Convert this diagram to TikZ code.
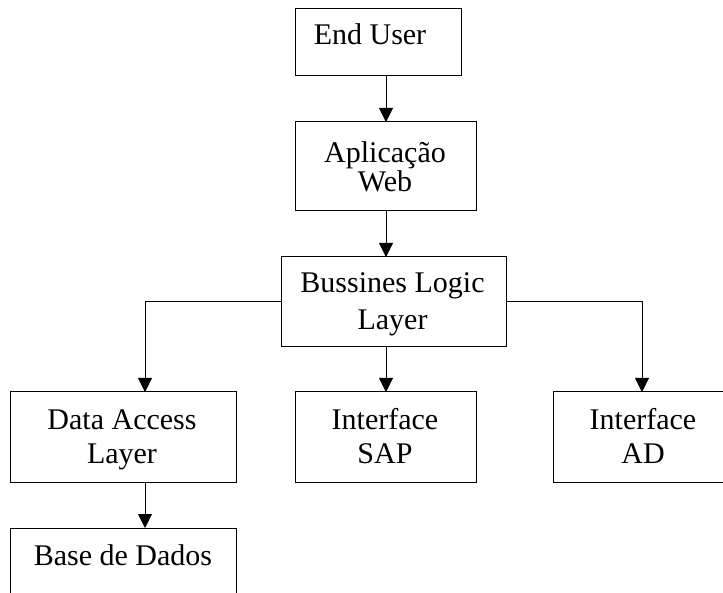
\documentclass[tikz,border=0pt]{standalone}
\usepackage{fontspec}
\setmainfont{Liberation Serif}
\usetikzlibrary{arrows.meta}
\begin{document}
\begin{tikzpicture}[x=1pt,y=-1pt,
  box/.style={draw, line width=1pt, inner sep=0pt, outer sep=0pt},
  lbl/.style={anchor=base, inner sep=0pt, font=\fontsize{30}{34}\selectfont},
  link/.style={draw, line width=1pt, -{Triangle[width=14pt,length=14pt]}}]
% canvas
\clip (0,0) rectangle (723,593);
\fill[white] (0,0) rectangle (723,593);

% boxes
\node[box, minimum width=166pt, minimum height=67pt] (user) at (378,42.5) {};
\node[box, minimum width=181pt, minimum height=89pt] (app)  at (385.5,166.5) {};
\node[box, minimum width=225pt, minimum height=90pt] (bll)  at (393.5,302) {};
\node[box, minimum width=226pt, minimum height=90pt] (dal)  at (123,437) {};
\node[box, minimum width=181pt, minimum height=90pt] (sap)  at (385.5,437) {};
\node[box, minimum width=247pt, minimum height=90pt] (ad)   at (676.5,437) {};
\node[box, minimum width=226pt, minimum height=92pt] (db)   at (123,574) {};

% labels
\node[lbl] (tuser) at (370,45) {End User};
\node[lbl] (tapp1) at (385,163) {Aplicação};
\node[lbl] (tapp2) at (385,192) {Web};
\node[lbl] (tbll1) at (392.5,293) {Bussines Logic};
\node[lbl] (tbll2) at (392.5,330) {Layer};
\node[lbl] (tdal1) at (122,429) {Data Access};
\node[lbl] (tdal2) at (122,463) {Layer};
\node[lbl] (tsap1) at (385,429) {Interface};
\node[lbl] (tsap2) at (385,463) {SAP};
\node[lbl] (tad1)  at (643,430) {Interface};
\node[lbl] (tad2)  at (643,463) {AD};
\node[lbl] (tdb)   at (123,565) {Base de Dados};

% connector columns
\coordinate (cx) at (386,0);
\coordinate (lx) at (145,0);
\coordinate (rx) at (642,0);

% connectors
\draw[link] (user.south -| cx) -- (app.north -| cx);
\draw[link] (app.south -| cx) -- (bll.north -| cx);
\draw[link] (bll.south -| cx) -- (sap.north -| cx);
\draw[link] (bll.west) -| (dal.north -| lx);
\draw[link] (bll.east) -| (ad.north -| rx);
\draw[link] (dal.south -| lx) -- (db.north -| lx);
\end{tikzpicture}
\end{document}
